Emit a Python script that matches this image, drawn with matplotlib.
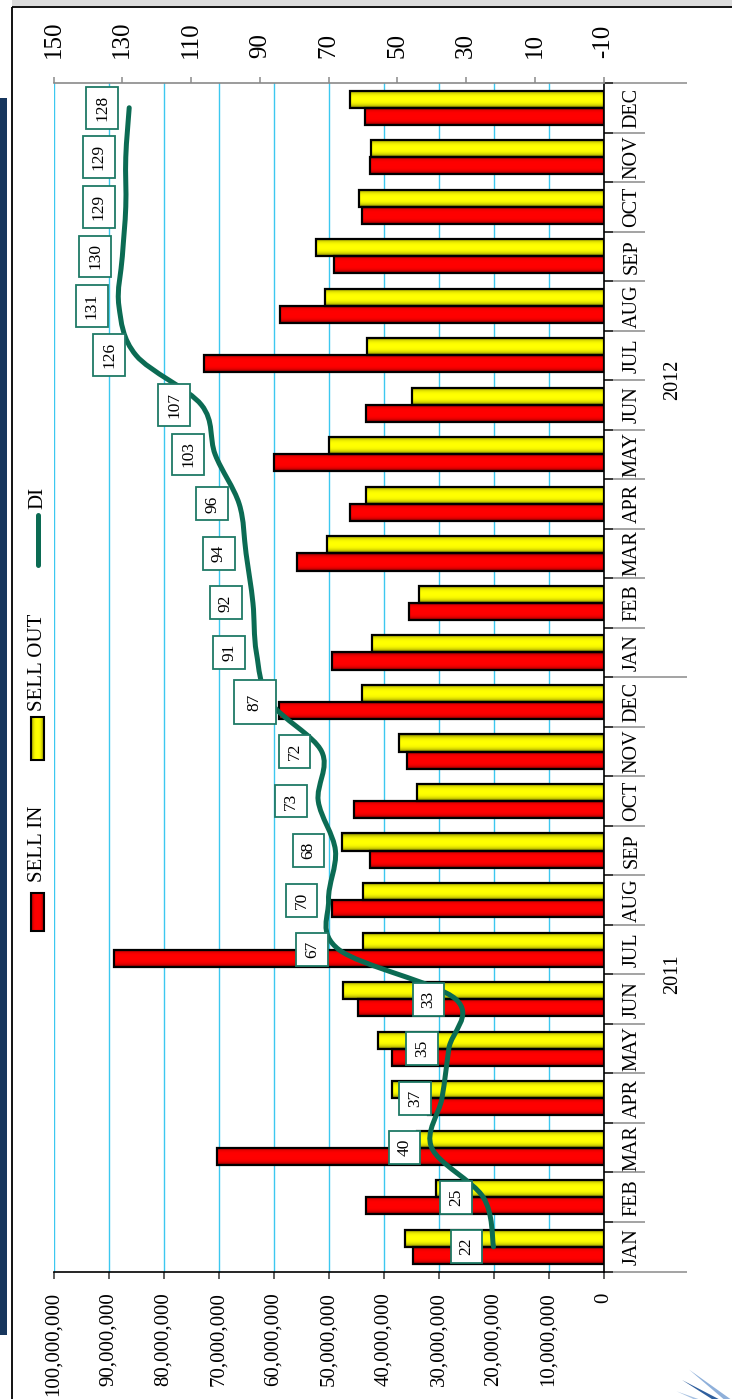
import numpy as np
import matplotlib
matplotlib.use("Agg")
import matplotlib.pyplot as plt
from matplotlib.path import Path
from matplotlib.patches import PathPatch, Rectangle, Polygon
from matplotlib.ticker import FuncFormatter
from matplotlib.colors import LinearSegmentedColormap
from matplotlib.lines import Line2D

# ---------------------------------------------------------------- data
months = ["JAN", "FEB", "MAR", "APR", "MAY", "JUN",
          "JUL", "AUG", "SEP", "OCT", "NOV", "DEC"] * 2
years = ["2011", "2012"]

# monthly volumes (units)
sell_in = [34.7e6, 43.2e6, 70.2e6, 32.0e6, 38.4e6, 44.6e6,
           89.0e6, 49.3e6, 42.5e6, 45.4e6, 35.8e6, 59.0e6,
           49.3e6, 35.4e6, 55.7e6, 46.1e6, 59.9e6, 43.1e6,
           72.7e6, 58.9e6, 49.0e6, 44.0e6, 42.4e6, 43.4e6]
sell_out = [36.1e6, 30.4e6, 34.0e6, 38.4e6, 41.0e6, 47.4e6,
            43.7e6, 43.7e6, 47.5e6, 34.0e6, 37.2e6, 44.0e6,
            42.1e6, 33.6e6, 50.3e6, 43.2e6, 50.0e6, 34.9e6,
            43.0e6, 50.6e6, 52.3e6, 44.5e6, 42.2e6, 46.1e6]
# days of inventory
di = [22, 25, 40, 37, 35, 33, 67, 70, 68, 73, 72, 87,
      91, 92, 94, 96, 103, 107, 126, 131, 130, 129, 129, 128]

left_ticks = np.arange(0, 100e6 + 1, 10e6)
right_ticks = np.arange(-10, 151, 20)

# ---------------------------------------------------------------- style
SERIF = ["Liberation Serif", "DejaVu Serif"]
plt.rcParams["font.family"] = SERIF
plt.rcParams["axes.unicode_minus"] = False
W, H = 732, 1399
DI_GREEN = "#0b6b53"
GRID = "#3cc8f0"


def fx(px):
    return px / W


def fy(py):
    return 1 - py / H


fig = plt.figure(figsize=(W / 100, H / 100), dpi=100)
fig.patch.set_facecolor("white")

# ---------------------------------------------------------------- slide decoration (pixel space)
deco = fig.add_axes([0, 0, 1, 1], zorder=0)
deco.set_xlim(0, W)
deco.set_ylim(H, 0)
deco.axis("off")
deco.add_patch(Rectangle((0, 98), 6.5, 1237, fc="#17365d", ec="none"))
deco.add_patch(Rectangle((12, 0), W - 12, 6, fc="#dcdcdc", ec="none"))
deco.plot([12, 12], [7, H], color="black", lw=1.3, solid_capstyle="butt")
deco.plot([12, W], [7, 7], color="black", lw=1.3, solid_capstyle="butt")
for ang, col in [(150, "#2f5f9e"), (158, "#a8c2e2"), (166, "#3d6fb0"),
                 (172, "#c4d6ec"), (142, "#8fb0da")]:
    a = np.deg2rad(ang)
    ox, oy = 760, 1425
    L = 90
    tip = (ox + L * np.cos(a), oy - L * np.sin(a))
    perp = np.array([np.sin(a), np.cos(a)]) * 4
    deco.add_patch(Polygon([(ox + perp[0], oy + perp[1]), tip,
                            (ox - perp[0], oy - perp[1])],
                           closed=True, fc=col, ec="none"))

# ---------------------------------------------------------------- main axes
PL, PR, PT, PB = 53.6, 603.5, 83, 1271.5
ax = fig.add_axes([fx(PL), fy(PB), (PR - PL) / W, (PB - PT) / H], zorder=1)
ax.patch.set_alpha(0)

n = len(months)
y = np.arange(n)
bar_h = 0.345

red_cmap = LinearSegmentedColormap.from_list("red_tube", ["#6a0000", "#ff0000"])
yel_cmap = LinearSegmentedColormap.from_list("yel_tube", ["#6e6e00", "#ffff00"])
t = np.linspace(0, 1, 64)
tube_red = (1 - np.abs(2 * t - 1) ** 4)[:, None]
tube_yel = (1 - np.abs(2 * t - 1) ** 3)[:, None]

red_bars = ax.barh(y - bar_h / 2, sell_in, height=bar_h, color="#ff0000",
                   zorder=2, label="SELL IN")
yel_bars = ax.barh(y + bar_h / 2, sell_out, height=bar_h, color="#ffff00",
                   zorder=2, label="SELL OUT")

for bars, cmap, prof in [(red_bars, red_cmap, tube_red),
                         (yel_bars, yel_cmap, tube_yel)]:
    for r in bars:
        x0, y0, w, h = r.get_x(), r.get_y(), r.get_width(), r.get_height()
        ax.imshow(prof, extent=(x0, x0 + w, y0, y0 + h), origin="lower",
                  aspect="auto", cmap=cmap, vmin=0, vmax=1,
                  interpolation="bilinear", zorder=2.1)
        ax.add_patch(Rectangle((x0, y0), w, h, fill=False, ec="black",
                               lw=1.6, zorder=2.2))

ax.set_xlim(100e6, 0)
ax.set_ylim(-0.5, n - 0.5)
ax.set_xticks(left_ticks)
ax.xaxis.set_major_formatter(FuncFormatter(lambda v, p: f"{v:,.0f}"))
ax.tick_params(axis="x", direction="out", length=5, width=1.1, pad=10,
               labelsize=15, labelrotation=90, color="#333333")
ax.set_yticks([])
ax.xaxis.grid(True, color=GRID, lw=1.0)
ax.set_axisbelow(True)
ax.spines["left"].set_visible(False)
ax.spines["top"].set_visible(False)
ax.spines["right"].set_color("black")
ax.spines["right"].set_linewidth(1.2)
ax.spines["bottom"].set_color("black")
ax.spines["bottom"].set_linewidth(1.2)

# category axis: month labels, separators and year groups
ytr = ax.get_yaxis_transform()
span = PR - PL


def ax_x(px):
    return (px - PL) / span


for i, m in enumerate(months):
    ax.text(ax_x(632), i, m, transform=ytr, rotation=90, ha="center",
            va="center", fontsize=14.5, clip_on=False)
for b in np.arange(-0.5, n, 1.0):
    long_line = b in (-0.5, 11.5, n - 0.5)
    ax.plot([1.0, ax_x(613)], [b, b], transform=ytr, color="black",
            lw=1.1, clip_on=False, solid_capstyle="butt")
    ax.plot([ax_x(613), ax_x(687 if long_line else 645)], [b, b],
            transform=ytr, color="#8a8a8a", lw=1.1, clip_on=False,
            solid_capstyle="butt")
for k, yr in enumerate(years):
    ax.text(ax_x(673), 12 * k + 5.5, yr, transform=ytr, rotation=90,
            ha="center", va="center", fontsize=14.5, clip_on=False)

# ---------------------------------------------------------------- secondary axis (DI)
ax2 = ax.twiny()
ax2.set_xlim(150, -10)
ax2.set_xticks(right_ticks)
ax2.xaxis.set_major_formatter(FuncFormatter(lambda v, p: f"{v:.0f}"))
ax2.tick_params(axis="x", direction="out", length=4.3, width=1.1, pad=14,
                labelsize=18, labelrotation=90, color="#8a8a8a")
for s in ["left", "right", "bottom"]:
    ax2.spines[s].set_visible(False)
ax2.spines["top"].set_color("#8a8a8a")
ax2.spines["top"].set_linewidth(1.2)

# smoothed DI line (cubic Bezier through every monthly value)
pts = np.column_stack([di, y]).astype(float)
verts = [tuple(pts[0])]
codes = [Path.MOVETO]
for i in range(n - 1):
    p_prev = pts[max(i - 1, 0)]
    p0, p1 = pts[i], pts[i + 1]
    p_next = pts[min(i + 2, n - 1)]
    c1 = p0 + (p1 - p_prev) / 6.0
    c2 = p1 - (p_next - p0) / 6.0
    verts += [tuple(c1), tuple(c2), tuple(p1)]
    codes += [Path.CURVE4] * 3
ax2.add_patch(PathPatch(Path(verts, codes), fc="none", ec=DI_GREEN, lw=3.6,
                        capstyle="round", zorder=3))

for i, v in enumerate(di):
    wide = (i == 11)
    ax2.annotate(str(v), xy=(v, i), xytext=(-11.2 if wide else -19.5, 0),
                 textcoords="offset points", rotation=90, ha="center",
                 va="center", fontsize=12.5,
                 bbox=dict(boxstyle=f"square,pad={0.75 if wide else 0.45}",
                           fc="white", ec="#1f7a66", lw=1.3),
                 zorder=5)

# ---------------------------------------------------------------- legend (rotated)
for (y_top, y_bot, cmap, prof, text, ty) in [
        (893, 931, red_cmap, tube_red, "SELL IN", 844),
        (717, 760, yel_cmap, tube_yel, "SELL OUT", 662)]:
    deco.imshow(prof.T, extent=(31, 44, y_bot, y_top), aspect="auto",
                cmap=cmap, vmin=0, vmax=1, interpolation="bilinear", zorder=2)
    deco.add_patch(Rectangle((31, y_top), 13, y_bot - y_top, fill=False,
                             ec="black", lw=1.5, zorder=3))
    deco.text(37.6, ty, text, rotation=90, ha="center", va="center",
              fontsize=15)
deco.set_xlim(0, W)
deco.set_ylim(H, 0)
deco.add_line(Line2D([37.5, 37.5], [515, 565], color=DI_GREEN, lw=3.6,
                     solid_capstyle="round"))
deco.text(37.6, 498, "DI", rotation=90, ha="center", va="center", fontsize=15)

fig.savefig("out.png", dpi=100, facecolor="white")
